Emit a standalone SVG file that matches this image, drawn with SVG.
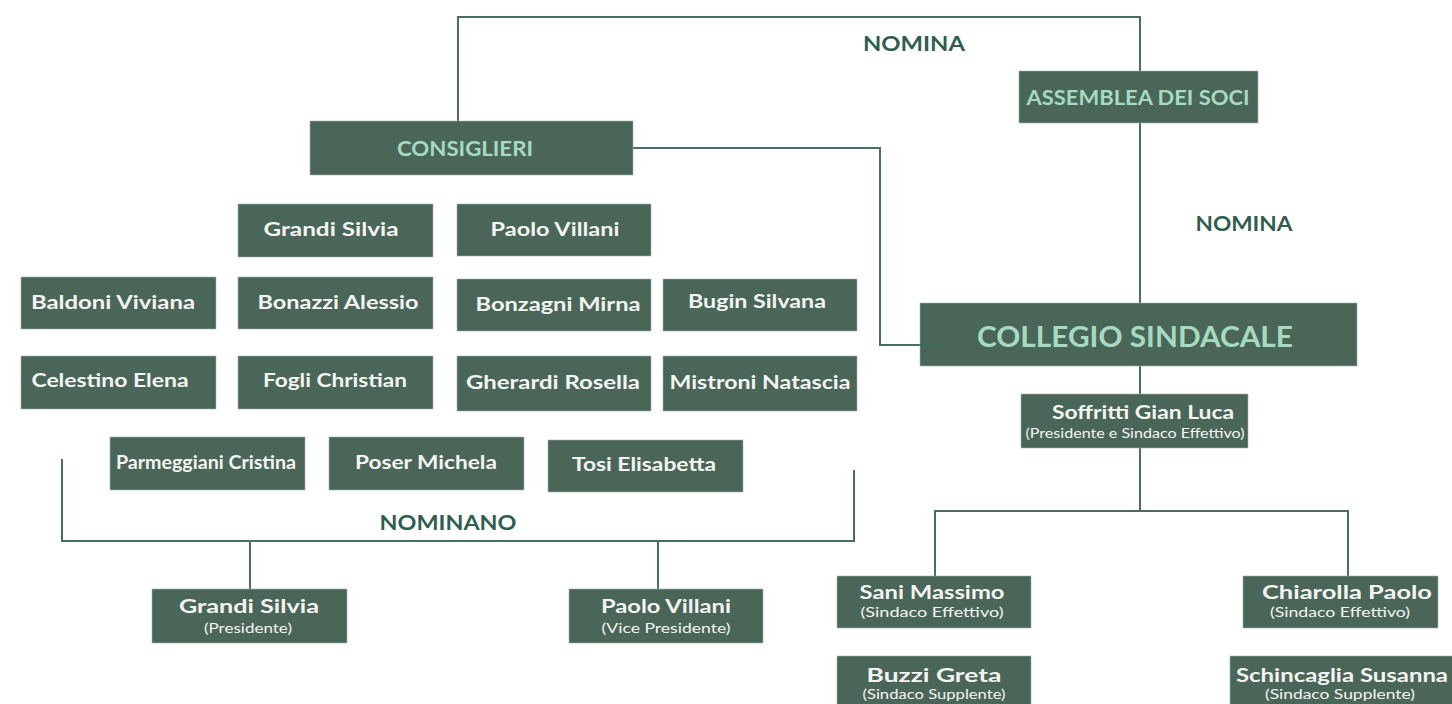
<svg xmlns="http://www.w3.org/2000/svg" width="1452" height="704" viewBox="0 0 1452 704">
<style>
.bx{fill:#4a6658;stroke:#9fb3aa;stroke-width:0.6}
.hd{font-family:Lato,"Open Sans",sans-serif;font-weight:700;fill:#a6dbc1;text-anchor:middle}
.nm{font-family:Lato,"Open Sans",sans-serif;font-weight:700;font-size:19px;fill:#f4f4f2;text-anchor:middle}
.sb{font-family:Lato,"Open Sans",sans-serif;font-weight:400;font-size:12.5px;fill:#f4f4f2;text-anchor:middle}
.lb{font-family:Lato,"Open Sans",sans-serif;font-weight:700;font-size:20px;fill:#2f5d4f;text-anchor:middle}
.ln{fill:none;stroke:#4a6e62;stroke-width:2}
.li{fill:none;stroke:#3f6a5c;stroke-width:2}
</style>
<rect width="1452" height="704" fill="#ffffff"/>
<g id="connectors">
<polyline class="ln" points="458,121 458,17 1140,17 1140,71"/>
<polyline class="ln" points="633,148 880,148 880,345 920,345"/>
<line class="ln" x1="1140" y1="123" x2="1140" y2="303"/>
<line class="ln" x1="1140" y1="366" x2="1140" y2="394"/>
<polyline class="ln" points="1140,448 1140,511"/>
<polyline class="ln" points="935,576 935,511 1348,511 1348,576"/>
<polyline class="ln" points="62,459 62,541 854,541 854,470"/>
<line class="ln" x1="250" y1="541" x2="250" y2="589"/>
<line class="ln" x1="658" y1="541" x2="658" y2="589"/>
</g>
<g id="labels">
<text class="lb" x="914" y="51" textLength="102" lengthAdjust="spacingAndGlyphs">NOMINA</text>
<text class="lb" x="1244" y="231" textLength="97" lengthAdjust="spacingAndGlyphs">NOMINA</text>
<text class="lb" x="448" y="530" textLength="137" lengthAdjust="spacingAndGlyphs">NOMINANO</text>
</g>
<g id="consiglieri"><rect class="bx" x="310" y="121" width="323" height="54"/><line class="li" x1="458" y1="121" x2="458" y2="138"/><text class="hd" x="465" y="156" font-size="20" textLength="136" lengthAdjust="spacingAndGlyphs">CONSIGLIERI</text></g>
<g id="assemblea"><rect class="bx" x="1019" y="71" width="239" height="52"/><text class="hd" x="1138" y="105" font-size="20" textLength="223" lengthAdjust="spacingAndGlyphs">ASSEMBLEA DEI SOCI</text></g>
<g id="collegio"><rect class="bx" x="920" y="303" width="437" height="63"/><line class="li" x1="920" y1="345" x2="953" y2="345"/><text class="hd" x="1135" y="347" font-size="28" textLength="316" lengthAdjust="spacingAndGlyphs">COLLEGIO SINDACALE</text></g>
<g id="grandi1"><rect class="bx" x="238" y="204" width="195" height="53"/><text class="nm" x="331" y="236" textLength="135" lengthAdjust="spacingAndGlyphs">Grandi Silvia</text></g>
<g id="villani1"><rect class="bx" x="457" y="204" width="194" height="52"/><text class="nm" x="555" y="236" textLength="129" lengthAdjust="spacingAndGlyphs">Paolo Villani</text></g>
<g id="baldoni"><rect class="bx" x="21" y="277" width="195" height="52"/><text class="nm" x="113" y="309" textLength="164" lengthAdjust="spacingAndGlyphs">Baldoni Viviana</text></g>
<g id="bonazzi"><rect class="bx" x="238" y="277" width="195" height="52"/><text class="nm" x="338" y="309" textLength="161" lengthAdjust="spacingAndGlyphs">Bonazzi Alessio</text></g>
<g id="bonzagni"><rect class="bx" x="457" y="279" width="194" height="52"/><text class="nm" x="558" y="311" textLength="165" lengthAdjust="spacingAndGlyphs">Bonzagni Mirna</text></g>
<g id="bugin"><rect class="bx" x="663" y="279" width="194" height="52"/><text class="nm" x="757" y="308" textLength="138" lengthAdjust="spacingAndGlyphs">Bugin Silvana</text></g>
<g id="celestino"><rect class="bx" x="21" y="356" width="195" height="53"/><text class="nm" x="110" y="387" textLength="157" lengthAdjust="spacingAndGlyphs">Celestino Elena</text></g>
<g id="fogli"><rect class="bx" x="238" y="356" width="195" height="53"/><text class="nm" x="335" y="387" textLength="144" lengthAdjust="spacingAndGlyphs">Fogli Christian</text></g>
<g id="gherardi"><rect class="bx" x="457" y="356" width="194" height="55"/><text class="nm" x="553" y="389" textLength="174" lengthAdjust="spacingAndGlyphs">Gherardi Rosella</text></g>
<g id="mistroni"><rect class="bx" x="663" y="356" width="194" height="55"/><text class="nm" x="760" y="389" textLength="181" lengthAdjust="spacingAndGlyphs">Mistroni Natascia</text></g>
<g id="parmeggiani"><rect class="bx" x="110" y="437" width="195" height="53"/><text class="nm" x="206" y="469" font-size="16" textLength="180" lengthAdjust="spacingAndGlyphs">Parmeggiani Cristina</text></g>
<g id="poser"><rect class="bx" x="329" y="437" width="195" height="53"/><text class="nm" x="426" y="469" textLength="142" lengthAdjust="spacingAndGlyphs">Poser Michela</text></g>
<g id="tosi"><rect class="bx" x="548" y="440" width="195" height="52"/><text class="nm" x="644" y="471" textLength="144" lengthAdjust="spacingAndGlyphs">Tosi Elisabetta</text></g>
<g id="grandi2"><rect class="bx" x="152" y="589" width="195" height="54"/><text class="nm" x="249" y="613" textLength="140" lengthAdjust="spacingAndGlyphs">Grandi Silvia</text><text class="sb" x="248" y="633" textLength="88" lengthAdjust="spacingAndGlyphs">(Presidente)</text></g>
<g id="villani2"><rect class="bx" x="569" y="589" width="194" height="54"/><text class="nm" x="666" y="613" textLength="130" lengthAdjust="spacingAndGlyphs">Paolo Villani</text><text class="sb" x="666" y="633" textLength="129" lengthAdjust="spacingAndGlyphs">(Vice Presidente)</text></g>
<g id="soffritti"><rect class="bx" x="1021" y="394" width="227" height="54"/><text class="nm" x="1143" y="419" textLength="182" lengthAdjust="spacingAndGlyphs">Soffritti Gian Luca</text><text class="sb" x="1135" y="438" textLength="219" lengthAdjust="spacingAndGlyphs">(Presidente e Sindaco Effettivo)</text></g>
<g id="sani"><rect class="bx" x="837" y="576" width="194" height="52"/><text class="nm" x="932" y="599" textLength="145" lengthAdjust="spacingAndGlyphs">Sani Massimo</text><text class="sb" x="932" y="617" textLength="143" lengthAdjust="spacingAndGlyphs">(Sindaco Effettivo)</text></g>
<g id="chiarolla"><rect class="bx" x="1243" y="576" width="195" height="52"/><text class="nm" x="1347" y="599" textLength="170" lengthAdjust="spacingAndGlyphs">Chiarolla Paolo</text><text class="sb" x="1340" y="617" textLength="140" lengthAdjust="spacingAndGlyphs">(Sindaco Effettivo)</text></g>
<g id="buzzi"><rect class="bx" x="837" y="656" width="194" height="52"/><text class="nm" x="934" y="682" textLength="135" lengthAdjust="spacingAndGlyphs">Buzzi Greta</text><text class="sb" x="934" y="699" textLength="143" lengthAdjust="spacingAndGlyphs">(Sindaco Supplente)</text></g>
<g id="schincaglia"><rect class="bx" x="1230" y="656" width="224" height="52"/><text class="nm" x="1342" y="682" textLength="212" lengthAdjust="spacingAndGlyphs">Schincaglia Susanna</text><text class="sb" x="1340" y="699" textLength="150" lengthAdjust="spacingAndGlyphs">(Sindaco Supplente)</text></g>
</svg>
